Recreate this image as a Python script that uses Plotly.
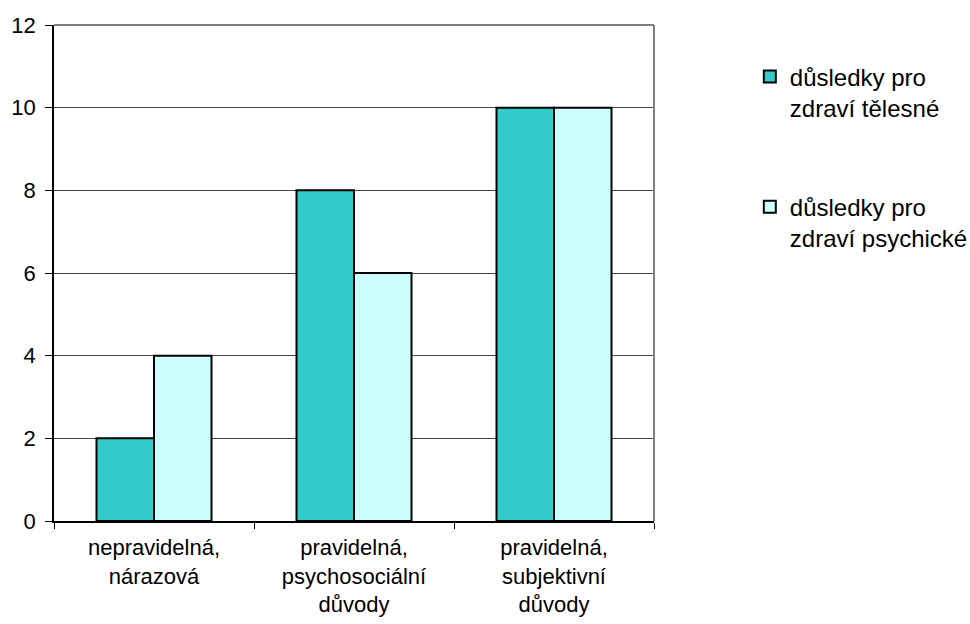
import plotly.graph_objects as go

categories = ["nepravidelná,<br>nárazová",
              "pravidelná,<br>psychosociální<br>důvody",
              "pravidelná,<br>subjektivní<br>důvody"]
telesne = [2, 8, 10]
psychicke = [4, 6, 10]
series_names = ["důsledky pro<br>zdraví tělesné", "důsledky pro<br>zdraví psychické"]
y_ticks = [0, 2, 4, 6, 8, 10, 12]

FONT = "Liberation Sans, Arial, sans-serif"

fig = go.Figure()
fig.add_trace(go.Bar(x=categories, y=telesne, name=series_names[0],
                     legendgroup="a",
                     marker=dict(color="#33CCCC", line=dict(color="#000000", width=2))))
fig.add_trace(go.Bar(x=categories, y=psychicke, name=series_names[1],
                     legendgroup="b",
                     marker=dict(color="#CCFFFF", line=dict(color="#000000", width=2))))

fig.update_layout(
    width=970, height=624,
    margin=dict(l=54, r=316, t=25, b=103),
    paper_bgcolor="white", plot_bgcolor="white",
    font=dict(family=FONT, size=22, color="#000000"),
    barmode="group", bargap=0.425, bargroupgap=0,
    showlegend=True,
    legend=dict(xref="container", yref="container", x=0.773, y=0.913,
                xanchor="left", yanchor="top",
                valign="top", tracegroupgap=65,
                font=dict(family=FONT, size=24, color="#000000"),
                bgcolor="rgba(0,0,0,0)"),
    xaxis=dict(type="category", tickson="boundaries", ticks="outside",
               ticklen=6, tickcolor="#000000", showgrid=False,
               showline=True, linecolor="#000000", linewidth=1.5,
               automargin=False,
               ticklabelstandoff=6, tickfont=dict(size=22)),
    yaxis=dict(range=[0, 12], tickvals=y_ticks, ticks="outside",
               ticklen=7, tickcolor="#000000",
               showgrid=True, gridcolor="#444444", gridwidth=1,
               showline=True, linecolor="#000000", linewidth=1.5,
               automargin=False,
               zeroline=False, ticklabelstandoff=5, tickfont=dict(size=22)),
    shapes=[
        dict(type="line", xref="paper", yref="paper", x0=0, x1=1, y0=1, y1=1,
             line=dict(color="#808080", width=2)),
        dict(type="line", xref="paper", yref="paper", x0=1, x1=1, y0=0, y1=1,
             line=dict(color="#808080", width=2)),
    ],
)

fig.write_html("out.html")
